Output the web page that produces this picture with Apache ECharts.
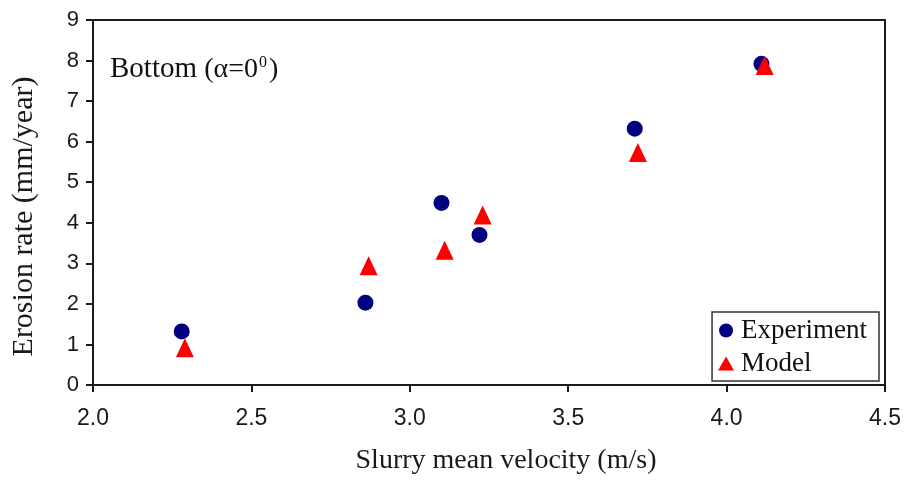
<!DOCTYPE html>
<html><head><meta charset="utf-8">
<script src="https://cdn.jsdelivr.net/npm/echarts@6/dist/echarts.min.js"></script>
<style>html,body{margin:0;padding:0;background:#fff}#c{width:904px;height:480px}</style>
</head><body><div id="c"></div>
<script>
const xTicks = [2.0, 2.5, 3.0, 3.5, 4.0, 4.5];
const yTicks = [0, 1, 2, 3, 4, 5, 6, 7, 8, 9];
const seriesNames = ['Experiment', 'Model'];
const expX = [2.28, 2.86, 3.10, 3.22, 3.71, 4.11];
const expY = [1.32, 2.03, 4.49, 3.70, 6.32, 7.92];
const modX = [2.29, 2.87, 3.11, 3.23, 3.72, 4.12];
const modY = [0.92, 2.94, 3.32, 4.19, 5.73, 7.88];
const xTitle = 'Slurry mean velocity (m/s)';
const yTitle = 'Erosion rate (mm/year)';

const serif = '"Liberation Serif", "DejaVu Serif", serif';
const sans = '"Liberation Sans", Arial, sans-serif';
const chart = echarts.init(document.getElementById('c'), null, {renderer: 'canvas'});
const axisCommon = {
  axisLine: {show: true, onZero: false, lineStyle: {color: '#1a1a1a', width: 2}},
  axisTick: {show: true, inside: false, length: 7, lineStyle: {color: '#1a1a1a', width: 2}},
  splitLine: {show: false},
  axisLabel: {fontFamily: sans, fontSize: 22, color: '#1a1a1a', margin: 14},
  nameLocation: 'middle',
  nameTextStyle: {fontFamily: serif, fontSize: 28, color: '#1a1a1a'}
};
chart.setOption({
  animation: false,
  backgroundColor: '#fff',
  grid: {left: 93, right: 19, top: 20, bottom: 93, show: true, borderColor: '#1a1a1a', borderWidth: 2, containLabel: false},
  title: {
    text: '{a|Bottom }{b|(α=0}{s|0}{b|)}',
    left: 105, top: 50,
    textStyle: {
      fontWeight: 'normal',
      rich: {
        a: {fontFamily: serif, fontSize: 29, fontWeight: 'normal', color: '#111', verticalAlign: 'bottom'},
        b: {fontFamily: serif, fontSize: 28, fontWeight: 'normal', color: '#111', verticalAlign: 'bottom'},
        s: {fontFamily: serif, fontSize: 16, fontWeight: 'normal', color: '#111', verticalAlign: 'top', padding: [0, 2, 0, 1]}
      }
    }
  },
  legend: {
    orient: 'vertical', right: 25, bottom: 99,
    borderColor: '#333', borderWidth: 1.5, padding: [5, 12, 4, 6], itemGap: 6,
    itemWidth: 16, itemHeight: 14,
    textStyle: {fontFamily: serif, fontSize: 27, color: '#111', padding: [0, 0, 0, 2]},
    data: [{name: seriesNames[0], icon: 'circle'}, {name: seriesNames[1], icon: 'triangle'}]
  },
  xAxis: Object.assign({}, axisCommon, {
    type: 'value', min: xTicks[0], max: xTicks[xTicks.length - 1], interval: 0.5,
    name: xTitle, nameGap: 62,
    nameTextStyle: Object.assign({}, axisCommon.nameTextStyle, {padding: [0, 0, 0, 34]}),
    axisLabel: Object.assign({}, axisCommon.axisLabel, {fontSize: 23, margin: 22, formatter: v => v.toFixed(1)})
  }),
  yAxis: Object.assign({}, axisCommon, {
    type: 'value', min: yTicks[0], max: yTicks[yTicks.length - 1], interval: 1,
    name: yTitle, nameGap: 54,
    nameTextStyle: Object.assign({}, axisCommon.nameTextStyle, {fontSize: 30, padding: [0, 28, 0, 0]})
  }),
  series: [
    {name: seriesNames[0], type: 'scatter', symbol: 'circle', symbolSize: 16,
     itemStyle: {color: '#000080', opacity: 1}, data: expX.map((x, i) => [x, expY[i]]), z: 2},
    {name: seriesNames[1], type: 'scatter', symbol: 'triangle', symbolSize: [18, 19],
     itemStyle: {color: '#ff0000', opacity: 1}, data: modX.map((x, i) => [x, modY[i]]), z: 3}
  ]
});
</script></body></html>
